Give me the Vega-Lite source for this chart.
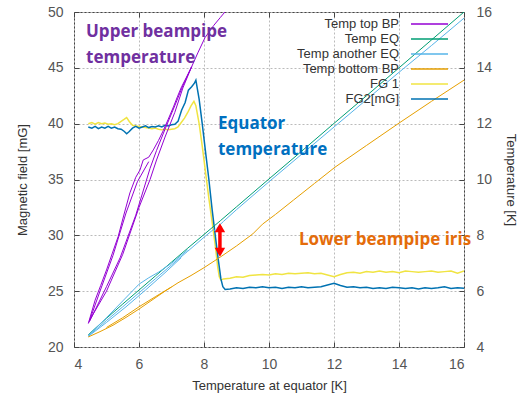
{
  "$schema": "https://vega.github.io/schema/vega-lite/v6.json",
  "width": 390,
  "height": 335,
  "autosize": "none",
  "padding": {"left": 74, "top": 12, "right": 55, "bottom": 50},
  "background": "white",
  "config": {
    "view": {"stroke": "#444", "strokeWidth": 1},
    "axis": {
      "labelFont": "Liberation Sans", "labelFontSize": 14, "labelColor": "#555",
      "titleFont": "Liberation Sans", "titleFontSize": 13, "titleFontWeight": "normal", "titleColor": "#333",
      "domain": false, "tickColor": "#444", "tickSize": -5, "tickWidth": 1,
      "gridColor": "#bbb", "gridDash": [2, 2], "gridWidth": 1
    }
  },
  "datasets": {
    "series": [
      {"s": "Temp top BP", "r": "m", "x": 4.44, "v": 4.84},
      {"s": "Temp top BP", "r": "m", "x": 4.65, "v": 5.68},
      {"s": "Temp top BP", "r": "m", "x": 4.82, "v": 6.2},
      {"s": "Temp top BP", "r": "m", "x": 5.0, "v": 6.76},
      {"s": "Temp top BP", "r": "m", "x": 5.18, "v": 7.36},
      {"s": "Temp top BP", "r": "m", "x": 5.36, "v": 7.96},
      {"s": "Temp top BP", "r": "m", "x": 5.55, "v": 8.8},
      {"s": "Temp top BP", "r": "m", "x": 5.72, "v": 9.52},
      {"s": "Temp top BP", "r": "m", "x": 5.9, "v": 10.08},
      {"s": "Temp top BP", "r": "m", "x": 6.03, "v": 10.34},
      {"s": "Temp top BP", "r": "m", "x": 6.13, "v": 10.7},
      {"s": "Temp top BP", "r": "m", "x": 6.3, "v": 10.8},
      {"s": "Temp top BP", "r": "m", "x": 6.44, "v": 11.06},
      {"s": "Temp top BP", "r": "m", "x": 6.6, "v": 11.4},
      {"s": "Temp top BP", "r": "m", "x": 6.75, "v": 11.76},
      {"s": "Temp top BP", "r": "m", "x": 6.9, "v": 12.16},
      {"s": "Temp top BP", "r": "m", "x": 7.06, "v": 12.6},
      {"s": "Temp top BP", "r": "m", "x": 7.18, "v": 12.96},
      {"s": "Temp top BP", "r": "m", "x": 7.31, "v": 13.32},
      {"s": "Temp top BP", "r": "m", "x": 7.45, "v": 13.64},
      {"s": "Temp top BP", "r": "m", "x": 7.62, "v": 14.04},
      {"s": "Temp top BP", "r": "m", "x": 7.82, "v": 14.56},
      {"s": "Temp top BP", "r": "m", "x": 8.03, "v": 15.08},
      {"s": "Temp top BP", "r": "m", "x": 8.3, "v": 15.52},
      {"s": "Temp top BP", "r": "m", "x": 8.5, "v": 15.8},
      {"s": "Temp top BP", "r": "m", "x": 8.7, "v": 16.08},
      {"s": "Temp top BP", "r": "a", "x": 4.48, "v": 4.92},
      {"s": "Temp top BP", "r": "a", "x": 5.0, "v": 6.16},
      {"s": "Temp top BP", "r": "a", "x": 5.42, "v": 7.2},
      {"s": "Temp top BP", "r": "a", "x": 5.9, "v": 8.72},
      {"s": "Temp top BP", "r": "a", "x": 6.34, "v": 10.4},
      {"s": "Temp top BP", "r": "a", "x": 6.54, "v": 11.04},
      {"s": "Temp top BP", "r": "a", "x": 6.8, "v": 11.8},
      {"s": "Temp top BP", "r": "a", "x": 7.1, "v": 12.64},
      {"s": "Temp top BP", "r": "a", "x": 7.35, "v": 13.36},
      {"s": "Temp top BP", "r": "a", "x": 7.62, "v": 14.04},
      {"s": "Temp top BP", "r": "b", "x": 4.5, "v": 5.0},
      {"s": "Temp top BP", "r": "b", "x": 5.0, "v": 6.0},
      {"s": "Temp top BP", "r": "b", "x": 5.5, "v": 7.32},
      {"s": "Temp top BP", "r": "b", "x": 6.0, "v": 9.0},
      {"s": "Temp top BP", "r": "b", "x": 6.34, "v": 10.0},
      {"s": "Temp top BP", "r": "b", "x": 6.54, "v": 10.7},
      {"s": "Temp top BP", "r": "b", "x": 6.8, "v": 11.52},
      {"s": "Temp top BP", "r": "b", "x": 7.1, "v": 12.4},
      {"s": "Temp top BP", "r": "b", "x": 7.35, "v": 13.28},
      {"s": "Temp top BP", "r": "b", "x": 7.62, "v": 14.04},
      {"s": "Temp top BP", "r": "c", "x": 4.46, "v": 4.88},
      {"s": "Temp top BP", "r": "c", "x": 4.8, "v": 6.0},
      {"s": "Temp top BP", "r": "c", "x": 5.2, "v": 7.28},
      {"s": "Temp top BP", "r": "c", "x": 5.6, "v": 8.8},
      {"s": "Temp top BP", "r": "c", "x": 5.95, "v": 9.92},
      {"s": "Temp top BP", "r": "c", "x": 6.3, "v": 10.64},
      {"s": "Temp EQ", "r": "m", "x": 4.44, "v": 4.44},
      {"s": "Temp EQ", "r": "m", "x": 5.0, "v": 5.03},
      {"s": "Temp EQ", "r": "m", "x": 5.5, "v": 5.54},
      {"s": "Temp EQ", "r": "m", "x": 6.0, "v": 6.04},
      {"s": "Temp EQ", "r": "m", "x": 6.5, "v": 6.54},
      {"s": "Temp EQ", "r": "m", "x": 7.0, "v": 7.04},
      {"s": "Temp EQ", "r": "m", "x": 7.5, "v": 7.54},
      {"s": "Temp EQ", "r": "m", "x": 8.0, "v": 8.03},
      {"s": "Temp EQ", "r": "m", "x": 8.5, "v": 8.52},
      {"s": "Temp EQ", "r": "m", "x": 9.0, "v": 9.02},
      {"s": "Temp EQ", "r": "m", "x": 10.0, "v": 10.02},
      {"s": "Temp EQ", "r": "m", "x": 11.0, "v": 11.01},
      {"s": "Temp EQ", "r": "m", "x": 12.0, "v": 12.01},
      {"s": "Temp EQ", "r": "m", "x": 13.0, "v": 13.0},
      {"s": "Temp EQ", "r": "m", "x": 14.0, "v": 14.0},
      {"s": "Temp EQ", "r": "m", "x": 15.0, "v": 15.0},
      {"s": "Temp EQ", "r": "m", "x": 16.0, "v": 16.0},
      {"s": "Temp another EQ", "r": "m", "x": 4.44, "v": 4.4},
      {"s": "Temp another EQ", "r": "m", "x": 5.0, "v": 4.95},
      {"s": "Temp another EQ", "r": "m", "x": 5.5, "v": 5.44},
      {"s": "Temp another EQ", "r": "m", "x": 6.0, "v": 5.94},
      {"s": "Temp another EQ", "r": "m", "x": 6.5, "v": 6.44},
      {"s": "Temp another EQ", "r": "m", "x": 7.0, "v": 6.94},
      {"s": "Temp another EQ", "r": "m", "x": 7.5, "v": 7.43},
      {"s": "Temp another EQ", "r": "m", "x": 8.0, "v": 7.93},
      {"s": "Temp another EQ", "r": "m", "x": 8.3, "v": 8.22},
      {"s": "Temp another EQ", "r": "m", "x": 8.36, "v": 8.12},
      {"s": "Temp another EQ", "r": "m", "x": 8.42, "v": 8.3},
      {"s": "Temp another EQ", "r": "m", "x": 8.6, "v": 8.5},
      {"s": "Temp another EQ", "r": "m", "x": 9.0, "v": 8.92},
      {"s": "Temp another EQ", "r": "m", "x": 10.0, "v": 9.92},
      {"s": "Temp another EQ", "r": "m", "x": 11.0, "v": 10.9},
      {"s": "Temp another EQ", "r": "m", "x": 12.0, "v": 11.88},
      {"s": "Temp another EQ", "r": "m", "x": 13.0, "v": 12.86},
      {"s": "Temp another EQ", "r": "m", "x": 14.0, "v": 13.84},
      {"s": "Temp another EQ", "r": "m", "x": 15.0, "v": 14.8},
      {"s": "Temp another EQ", "r": "m", "x": 16.0, "v": 15.78},
      {"s": "Temp another EQ", "r": "a", "x": 4.44, "v": 4.42},
      {"s": "Temp another EQ", "r": "a", "x": 5.0, "v": 5.05},
      {"s": "Temp another EQ", "r": "a", "x": 5.5, "v": 5.65},
      {"s": "Temp another EQ", "r": "a", "x": 6.0, "v": 6.25},
      {"s": "Temp another EQ", "r": "a", "x": 6.3, "v": 6.48},
      {"s": "Temp another EQ", "r": "a", "x": 6.6, "v": 6.68},
      {"s": "Temp another EQ", "r": "a", "x": 7.0, "v": 7.0},
      {"s": "Temp another EQ", "r": "a", "x": 7.5, "v": 7.48},
      {"s": "Temp another EQ", "r": "b", "x": 4.44, "v": 4.38},
      {"s": "Temp another EQ", "r": "b", "x": 5.0, "v": 4.88},
      {"s": "Temp another EQ", "r": "b", "x": 5.6, "v": 5.44},
      {"s": "Temp another EQ", "r": "b", "x": 6.2, "v": 6.04},
      {"s": "Temp another EQ", "r": "b", "x": 6.8, "v": 6.66},
      {"s": "Temp another EQ", "r": "b", "x": 7.3, "v": 7.2},
      {"s": "Temp bottom BP", "r": "m", "x": 4.44, "v": 4.36},
      {"s": "Temp bottom BP", "r": "m", "x": 4.8, "v": 4.55},
      {"s": "Temp bottom BP", "r": "m", "x": 5.2, "v": 4.78},
      {"s": "Temp bottom BP", "r": "m", "x": 5.6, "v": 5.06},
      {"s": "Temp bottom BP", "r": "m", "x": 6.0, "v": 5.36},
      {"s": "Temp bottom BP", "r": "m", "x": 6.4, "v": 5.68},
      {"s": "Temp bottom BP", "r": "m", "x": 6.8, "v": 6.0},
      {"s": "Temp bottom BP", "r": "m", "x": 7.2, "v": 6.3},
      {"s": "Temp bottom BP", "r": "m", "x": 7.6, "v": 6.56},
      {"s": "Temp bottom BP", "r": "m", "x": 8.0, "v": 6.84},
      {"s": "Temp bottom BP", "r": "m", "x": 8.5, "v": 7.22},
      {"s": "Temp bottom BP", "r": "m", "x": 9.0, "v": 7.62},
      {"s": "Temp bottom BP", "r": "m", "x": 9.5, "v": 8.05},
      {"s": "Temp bottom BP", "r": "m", "x": 9.8, "v": 8.4},
      {"s": "Temp bottom BP", "r": "m", "x": 10.2, "v": 8.75},
      {"s": "Temp bottom BP", "r": "m", "x": 10.75, "v": 9.26},
      {"s": "Temp bottom BP", "r": "m", "x": 11.4, "v": 9.86},
      {"s": "Temp bottom BP", "r": "m", "x": 12.03, "v": 10.44},
      {"s": "Temp bottom BP", "r": "m", "x": 13.0, "v": 11.22},
      {"s": "Temp bottom BP", "r": "m", "x": 14.0, "v": 12.02},
      {"s": "Temp bottom BP", "r": "m", "x": 15.0, "v": 12.8},
      {"s": "Temp bottom BP", "r": "m", "x": 16.0, "v": 13.56},
      {"s": "Temp bottom BP", "r": "a", "x": 5.0, "v": 4.7},
      {"s": "Temp bottom BP", "r": "a", "x": 5.5, "v": 5.05},
      {"s": "Temp bottom BP", "r": "a", "x": 6.0, "v": 5.44},
      {"s": "Temp bottom BP", "r": "a", "x": 6.5, "v": 5.8},
      {"s": "Temp bottom BP", "r": "a", "x": 7.0, "v": 6.15},
      {"s": "FG 1", "r": "m", "x": 4.44, "v": 40.0},
      {"s": "FG 1", "r": "m", "x": 4.55, "v": 40.1},
      {"s": "FG 1", "r": "m", "x": 4.65, "v": 39.95},
      {"s": "FG 1", "r": "m", "x": 4.75, "v": 40.1},
      {"s": "FG 1", "r": "m", "x": 4.85, "v": 40.0},
      {"s": "FG 1", "r": "m", "x": 4.95, "v": 40.05},
      {"s": "FG 1", "r": "m", "x": 5.05, "v": 39.95},
      {"s": "FG 1", "r": "m", "x": 5.15, "v": 40.0},
      {"s": "FG 1", "r": "m", "x": 5.25, "v": 39.9},
      {"s": "FG 1", "r": "m", "x": 5.35, "v": 40.0},
      {"s": "FG 1", "r": "m", "x": 5.45, "v": 40.2},
      {"s": "FG 1", "r": "m", "x": 5.55, "v": 40.4},
      {"s": "FG 1", "r": "m", "x": 5.62, "v": 40.55},
      {"s": "FG 1", "r": "m", "x": 5.7, "v": 40.2},
      {"s": "FG 1", "r": "m", "x": 5.8, "v": 39.85},
      {"s": "FG 1", "r": "m", "x": 5.9, "v": 39.8},
      {"s": "FG 1", "r": "m", "x": 6.0, "v": 39.75},
      {"s": "FG 1", "r": "m", "x": 6.1, "v": 39.7},
      {"s": "FG 1", "r": "m", "x": 6.2, "v": 39.65},
      {"s": "FG 1", "r": "m", "x": 6.3, "v": 39.6},
      {"s": "FG 1", "r": "m", "x": 6.4, "v": 39.55},
      {"s": "FG 1", "r": "m", "x": 6.5, "v": 39.6},
      {"s": "FG 1", "r": "m", "x": 6.6, "v": 39.5},
      {"s": "FG 1", "r": "m", "x": 6.7, "v": 39.45},
      {"s": "FG 1", "r": "m", "x": 6.8, "v": 39.5},
      {"s": "FG 1", "r": "m", "x": 6.9, "v": 39.45},
      {"s": "FG 1", "r": "m", "x": 7.0, "v": 39.5},
      {"s": "FG 1", "r": "m", "x": 7.1, "v": 39.55},
      {"s": "FG 1", "r": "m", "x": 7.2, "v": 39.7},
      {"s": "FG 1", "r": "m", "x": 7.3, "v": 40.1},
      {"s": "FG 1", "r": "m", "x": 7.4, "v": 40.5},
      {"s": "FG 1", "r": "m", "x": 7.5, "v": 41.0},
      {"s": "FG 1", "r": "m", "x": 7.6, "v": 41.6},
      {"s": "FG 1", "r": "m", "x": 7.69, "v": 42.0},
      {"s": "FG 1", "r": "m", "x": 7.75, "v": 41.6},
      {"s": "FG 1", "r": "m", "x": 7.85, "v": 40.0},
      {"s": "FG 1", "r": "m", "x": 7.95, "v": 37.9},
      {"s": "FG 1", "r": "m", "x": 8.05, "v": 35.6},
      {"s": "FG 1", "r": "m", "x": 8.15, "v": 33.3},
      {"s": "FG 1", "r": "m", "x": 8.25, "v": 31.2},
      {"s": "FG 1", "r": "m", "x": 8.35, "v": 29.0},
      {"s": "FG 1", "r": "m", "x": 8.42, "v": 27.2},
      {"s": "FG 1", "r": "m", "x": 8.47, "v": 26.3},
      {"s": "FG 1", "r": "m", "x": 8.52, "v": 26.0},
      {"s": "FG 1", "r": "m", "x": 8.6, "v": 26.1},
      {"s": "FG 1", "r": "m", "x": 8.8, "v": 26.15},
      {"s": "FG 1", "r": "m", "x": 9.0, "v": 26.3},
      {"s": "FG 1", "r": "m", "x": 9.2, "v": 26.25},
      {"s": "FG 1", "r": "m", "x": 9.4, "v": 26.4},
      {"s": "FG 1", "r": "m", "x": 9.6, "v": 26.45},
      {"s": "FG 1", "r": "m", "x": 9.8, "v": 26.5},
      {"s": "FG 1", "r": "m", "x": 10.0, "v": 26.45},
      {"s": "FG 1", "r": "m", "x": 10.2, "v": 26.55},
      {"s": "FG 1", "r": "m", "x": 10.4, "v": 26.5},
      {"s": "FG 1", "r": "m", "x": 10.6, "v": 26.6},
      {"s": "FG 1", "r": "m", "x": 10.8, "v": 26.55},
      {"s": "FG 1", "r": "m", "x": 11.0, "v": 26.6},
      {"s": "FG 1", "r": "m", "x": 11.2, "v": 26.65},
      {"s": "FG 1", "r": "m", "x": 11.4, "v": 26.55},
      {"s": "FG 1", "r": "m", "x": 11.6, "v": 26.6},
      {"s": "FG 1", "r": "m", "x": 11.8, "v": 26.45},
      {"s": "FG 1", "r": "m", "x": 12.0, "v": 26.3},
      {"s": "FG 1", "r": "m", "x": 12.2, "v": 26.5},
      {"s": "FG 1", "r": "m", "x": 12.4, "v": 26.65},
      {"s": "FG 1", "r": "m", "x": 12.6, "v": 26.7},
      {"s": "FG 1", "r": "m", "x": 12.8, "v": 26.6},
      {"s": "FG 1", "r": "m", "x": 13.0, "v": 26.75},
      {"s": "FG 1", "r": "m", "x": 13.2, "v": 26.7},
      {"s": "FG 1", "r": "m", "x": 13.4, "v": 26.8},
      {"s": "FG 1", "r": "m", "x": 13.6, "v": 26.7},
      {"s": "FG 1", "r": "m", "x": 13.8, "v": 26.75},
      {"s": "FG 1", "r": "m", "x": 14.0, "v": 26.65},
      {"s": "FG 1", "r": "m", "x": 14.2, "v": 26.8},
      {"s": "FG 1", "r": "m", "x": 14.4, "v": 26.75},
      {"s": "FG 1", "r": "m", "x": 14.6, "v": 26.7},
      {"s": "FG 1", "r": "m", "x": 14.8, "v": 26.75},
      {"s": "FG 1", "r": "m", "x": 15.0, "v": 26.8},
      {"s": "FG 1", "r": "m", "x": 15.2, "v": 26.7},
      {"s": "FG 1", "r": "m", "x": 15.4, "v": 26.75},
      {"s": "FG 1", "r": "m", "x": 15.6, "v": 26.8},
      {"s": "FG 1", "r": "m", "x": 15.8, "v": 26.6},
      {"s": "FG 1", "r": "m", "x": 16.0, "v": 26.8},
      {"s": "FG2[mG]", "r": "m", "x": 4.44, "v": 39.7},
      {"s": "FG2[mG]", "r": "m", "x": 4.55, "v": 39.6},
      {"s": "FG2[mG]", "r": "m", "x": 4.65, "v": 39.75},
      {"s": "FG2[mG]", "r": "m", "x": 4.75, "v": 39.55},
      {"s": "FG2[mG]", "r": "m", "x": 4.85, "v": 39.7},
      {"s": "FG2[mG]", "r": "m", "x": 4.95, "v": 39.6},
      {"s": "FG2[mG]", "r": "m", "x": 5.05, "v": 39.75},
      {"s": "FG2[mG]", "r": "m", "x": 5.15, "v": 39.6},
      {"s": "FG2[mG]", "r": "m", "x": 5.25, "v": 39.7},
      {"s": "FG2[mG]", "r": "m", "x": 5.35, "v": 39.55},
      {"s": "FG2[mG]", "r": "m", "x": 5.45, "v": 39.5},
      {"s": "FG2[mG]", "r": "m", "x": 5.55, "v": 39.3},
      {"s": "FG2[mG]", "r": "m", "x": 5.62, "v": 39.1},
      {"s": "FG2[mG]", "r": "m", "x": 5.7, "v": 39.3},
      {"s": "FG2[mG]", "r": "m", "x": 5.8, "v": 39.6},
      {"s": "FG2[mG]", "r": "m", "x": 5.9, "v": 39.75},
      {"s": "FG2[mG]", "r": "m", "x": 6.0, "v": 39.6},
      {"s": "FG2[mG]", "r": "m", "x": 6.1, "v": 39.7},
      {"s": "FG2[mG]", "r": "m", "x": 6.2, "v": 39.8},
      {"s": "FG2[mG]", "r": "m", "x": 6.3, "v": 39.65},
      {"s": "FG2[mG]", "r": "m", "x": 6.4, "v": 39.75},
      {"s": "FG2[mG]", "r": "m", "x": 6.5, "v": 39.7},
      {"s": "FG2[mG]", "r": "m", "x": 6.6, "v": 39.8},
      {"s": "FG2[mG]", "r": "m", "x": 6.7, "v": 39.7},
      {"s": "FG2[mG]", "r": "m", "x": 6.8, "v": 39.85},
      {"s": "FG2[mG]", "r": "m", "x": 6.9, "v": 39.8},
      {"s": "FG2[mG]", "r": "m", "x": 7.0, "v": 39.9},
      {"s": "FG2[mG]", "r": "m", "x": 7.1, "v": 39.95},
      {"s": "FG2[mG]", "r": "m", "x": 7.2, "v": 40.2},
      {"s": "FG2[mG]", "r": "m", "x": 7.31, "v": 41.2},
      {"s": "FG2[mG]", "r": "m", "x": 7.42, "v": 41.9},
      {"s": "FG2[mG]", "r": "m", "x": 7.52, "v": 43.0},
      {"s": "FG2[mG]", "r": "m", "x": 7.62, "v": 43.3},
      {"s": "FG2[mG]", "r": "m", "x": 7.7, "v": 43.6},
      {"s": "FG2[mG]", "r": "m", "x": 7.75, "v": 43.9},
      {"s": "FG2[mG]", "r": "m", "x": 7.85, "v": 42.2},
      {"s": "FG2[mG]", "r": "m", "x": 7.95, "v": 39.9},
      {"s": "FG2[mG]", "r": "m", "x": 8.05, "v": 37.4},
      {"s": "FG2[mG]", "r": "m", "x": 8.15, "v": 35.0},
      {"s": "FG2[mG]", "r": "m", "x": 8.25, "v": 32.3},
      {"s": "FG2[mG]", "r": "m", "x": 8.35, "v": 29.9},
      {"s": "FG2[mG]", "r": "m", "x": 8.44, "v": 27.8},
      {"s": "FG2[mG]", "r": "m", "x": 8.52, "v": 26.1},
      {"s": "FG2[mG]", "r": "m", "x": 8.58, "v": 25.4},
      {"s": "FG2[mG]", "r": "m", "x": 8.65, "v": 25.15},
      {"s": "FG2[mG]", "r": "m", "x": 8.8, "v": 25.2},
      {"s": "FG2[mG]", "r": "m", "x": 9.0, "v": 25.3},
      {"s": "FG2[mG]", "r": "m", "x": 9.2, "v": 25.25},
      {"s": "FG2[mG]", "r": "m", "x": 9.4, "v": 25.35},
      {"s": "FG2[mG]", "r": "m", "x": 9.6, "v": 25.3},
      {"s": "FG2[mG]", "r": "m", "x": 9.8, "v": 25.4},
      {"s": "FG2[mG]", "r": "m", "x": 10.0, "v": 25.3},
      {"s": "FG2[mG]", "r": "m", "x": 10.2, "v": 25.35},
      {"s": "FG2[mG]", "r": "m", "x": 10.4, "v": 25.25},
      {"s": "FG2[mG]", "r": "m", "x": 10.6, "v": 25.35},
      {"s": "FG2[mG]", "r": "m", "x": 10.8, "v": 25.3},
      {"s": "FG2[mG]", "r": "m", "x": 11.0, "v": 25.4},
      {"s": "FG2[mG]", "r": "m", "x": 11.2, "v": 25.3},
      {"s": "FG2[mG]", "r": "m", "x": 11.4, "v": 25.35},
      {"s": "FG2[mG]", "r": "m", "x": 11.6, "v": 25.4},
      {"s": "FG2[mG]", "r": "m", "x": 11.8, "v": 25.55},
      {"s": "FG2[mG]", "r": "m", "x": 12.0, "v": 25.7},
      {"s": "FG2[mG]", "r": "m", "x": 12.2, "v": 25.5},
      {"s": "FG2[mG]", "r": "m", "x": 12.4, "v": 25.35},
      {"s": "FG2[mG]", "r": "m", "x": 12.6, "v": 25.4},
      {"s": "FG2[mG]", "r": "m", "x": 12.8, "v": 25.3},
      {"s": "FG2[mG]", "r": "m", "x": 13.0, "v": 25.35},
      {"s": "FG2[mG]", "r": "m", "x": 13.2, "v": 25.25},
      {"s": "FG2[mG]", "r": "m", "x": 13.4, "v": 25.3},
      {"s": "FG2[mG]", "r": "m", "x": 13.6, "v": 25.25},
      {"s": "FG2[mG]", "r": "m", "x": 13.8, "v": 25.35},
      {"s": "FG2[mG]", "r": "m", "x": 14.0, "v": 25.3},
      {"s": "FG2[mG]", "r": "m", "x": 14.2, "v": 25.25},
      {"s": "FG2[mG]", "r": "m", "x": 14.4, "v": 25.3},
      {"s": "FG2[mG]", "r": "m", "x": 14.6, "v": 25.2},
      {"s": "FG2[mG]", "r": "m", "x": 14.8, "v": 25.3},
      {"s": "FG2[mG]", "r": "m", "x": 15.0, "v": 25.25},
      {"s": "FG2[mG]", "r": "m", "x": 15.2, "v": 25.3},
      {"s": "FG2[mG]", "r": "m", "x": 15.4, "v": 25.4},
      {"s": "FG2[mG]", "r": "m", "x": 15.6, "v": 25.25},
      {"s": "FG2[mG]", "r": "m", "x": 15.8, "v": 25.3},
      {"s": "FG2[mG]", "r": "m", "x": 16.0, "v": 25.25}
    ],
    "notes": [
      {"t": "Upper beampipe", "g": "upper", "x": 4.37, "v": 48.23},
      {"t": "temperature", "g": "upper", "x": 4.37, "v": 45.9},
      {"t": "Equator", "g": "eq", "x": 8.43, "v": 39.98},
      {"t": "temperature", "g": "eq", "x": 8.43, "v": 37.65},
      {"t": "Lower beampipe iris", "g": "lower", "x": 10.92, "v": 29.57}
    ],
    "arrow": [
      {"x": 8.49, "lo": 28.4, "hi": 30.8, "up": 30.68, "down": 28.48}
    ]
  },
  "layer": [
    {
      "data": {"name": "series"},
      "transform": [{"filter": "datum.s === 'FG 1' || datum.s === 'FG2[mG]'"}],
      "mark": {"type": "line", "strokeWidth": 1.5, "clip": true},
      "encoding": {
        "x": {"field": "x", "type": "quantitative", "scale": {"domain": [4, 16], "nice": false, "zero": false},
          "axis": {"orient": "bottom", "title": "Temperature at equator [K]", "values": [4, 6, 8, 10, 12, 14, 16], "labelPadding": 15, "titlePadding": 8, "grid": true}},
        "y": {"field": "v", "type": "quantitative", "scale": {"domain": [20, 50], "nice": false, "zero": false},
          "axis": {"orient": "left", "title": "Magnetic field [mG]", "values": [20, 25, 30, 35, 40, 45, 50], "labelPadding": 16, "titlePadding": 18, "grid": true}},
        "color": {"field": "s", "type": "nominal",
          "scale": {"domain": ["Temp top BP", "Temp EQ", "Temp another EQ", "Temp bottom BP", "FG 1", "FG2[mG]"],
                    "range": ["#9400d3", "#009e73", "#56b4e9", "#e69f00", "#f0e442", "#0072b2"]},
          "legend": {"orient": "none", "legendX": 347.5, "legendY": 4, "title": null, "symbolType": "M-2.643,0H2.643", "symbolSize": 196,
            "symbolStrokeWidth": 1.5, "symbolOffset": 0, "rowPadding": 0, "labelAlign": "right", "labelOffset": -38.5,
            "labelFont": "Liberation Sans", "labelFontSize": 13, "labelColor": "#333", "padding": 0}},
        "detail": {"field": "r"}
      }
    },
    {
      "data": {"name": "series"},
      "transform": [{"filter": "datum.s !== 'FG 1' && datum.s !== 'FG2[mG]'"}],
      "mark": {"type": "line", "strokeWidth": 1, "clip": true},
      "encoding": {
        "x": {"field": "x", "type": "quantitative", "scale": {"domain": [4, 16], "nice": false, "zero": false},
          "axis": {"orient": "top", "title": null, "labels": false, "values": [4, 6, 8, 10, 12, 14, 16], "grid": false}},
        "y": {"field": "v", "type": "quantitative", "scale": {"domain": [4, 16], "nice": false, "zero": false},
          "axis": {"orient": "right", "title": "Temperature [K]", "values": [4, 6, 8, 10, 12, 14, 16], "labelPadding": 17, "titlePadding": 12, "grid": false}},
        "color": {"field": "s", "type": "nominal",
          "scale": {"domain": ["Temp top BP", "Temp EQ", "Temp another EQ", "Temp bottom BP", "FG 1", "FG2[mG]"],
                    "range": ["#9400d3", "#009e73", "#56b4e9", "#e69f00", "#f0e442", "#0072b2"]}},
        "detail": {"field": "r"}
      }
    },
    {
      "data": {"name": "arrow"},
      "mark": {"type": "rule", "color": "#ff0000", "strokeWidth": 3.5},
      "encoding": {
        "x": {"field": "x", "type": "quantitative", "scale": {"domain": [4, 16], "nice": false, "zero": false}, "axis": null},
        "y": {"field": "lo", "type": "quantitative", "scale": {"domain": [20, 50], "nice": false, "zero": false}, "axis": null},
        "y2": {"field": "hi"}
      }
    },
    {
      "data": {"name": "arrow"},
      "mark": {"type": "point", "shape": "triangle-up", "filled": true, "color": "#ff0000", "size": 110, "opacity": 1},
      "encoding": {
        "x": {"field": "x", "type": "quantitative", "scale": {"domain": [4, 16], "nice": false, "zero": false}, "axis": null},
        "y": {"field": "up", "type": "quantitative", "scale": {"domain": [20, 50], "nice": false, "zero": false}, "axis": null}
      }
    },
    {
      "data": {"name": "arrow"},
      "mark": {"type": "point", "shape": "triangle-down", "filled": true, "color": "#ff0000", "size": 110, "opacity": 1},
      "encoding": {
        "x": {"field": "x", "type": "quantitative", "scale": {"domain": [4, 16], "nice": false, "zero": false}, "axis": null},
        "y": {"field": "down", "type": "quantitative", "scale": {"domain": [20, 50], "nice": false, "zero": false}, "axis": null}
      }
    },
    {
      "data": {"name": "notes"},
      "transform": [{"filter": "datum.g === 'upper'"}],
      "mark": {"type": "text", "align": "left", "baseline": "middle", "font": "Open Sans", "fontWeight": "bold", "fontSize": 17, "color": "#7030a0"},
      "encoding": {
        "x": {"field": "x", "type": "quantitative", "scale": {"domain": [4, 16], "nice": false, "zero": false}, "axis": null},
        "y": {"field": "v", "type": "quantitative", "scale": {"domain": [20, 50], "nice": false, "zero": false}, "axis": null},
        "text": {"field": "t"}
      }
    },
    {
      "data": {"name": "notes"},
      "transform": [{"filter": "datum.g === 'eq'"}],
      "mark": {"type": "text", "align": "left", "baseline": "middle", "font": "Open Sans", "fontWeight": "bold", "fontSize": 17, "color": "#0070c0"},
      "encoding": {
        "x": {"field": "x", "type": "quantitative", "scale": {"domain": [4, 16], "nice": false, "zero": false}, "axis": null},
        "y": {"field": "v", "type": "quantitative", "scale": {"domain": [20, 50], "nice": false, "zero": false}, "axis": null},
        "text": {"field": "t"}
      }
    },
    {
      "data": {"name": "notes"},
      "transform": [{"filter": "datum.g === 'lower'"}],
      "mark": {"type": "text", "align": "left", "baseline": "middle", "font": "Open Sans", "fontWeight": "bold", "fontSize": 17, "color": "#e46c0a"},
      "encoding": {
        "x": {"field": "x", "type": "quantitative", "scale": {"domain": [4, 16], "nice": false, "zero": false}, "axis": null},
        "y": {"field": "v", "type": "quantitative", "scale": {"domain": [20, 50], "nice": false, "zero": false}, "axis": null},
        "text": {"field": "t"}
      }
    }
  ],
  "resolve": {"scale": {"y": "independent"}, "axis": {"x": "independent", "y": "independent"}}
}
